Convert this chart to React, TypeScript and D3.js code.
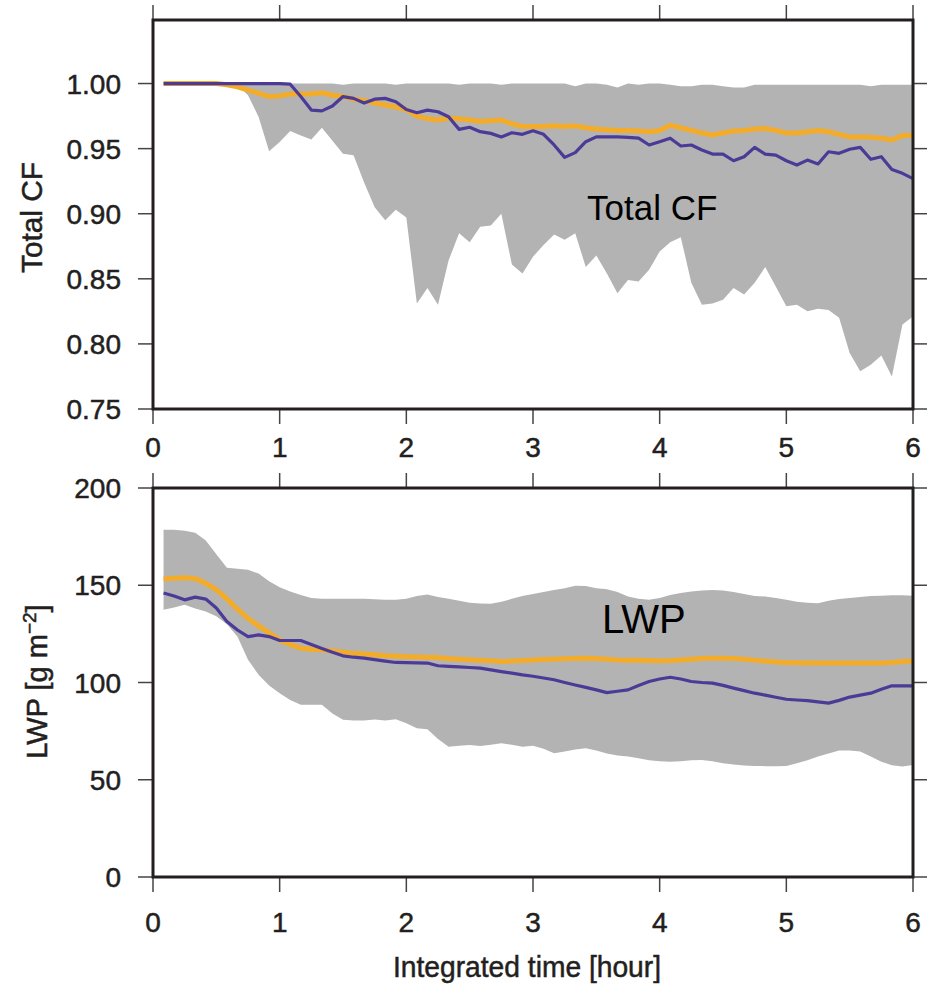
import React from "react";
import * as d3 from "d3";

// time axis: minutes since start (5-minute output)
const minutes = [
  5, 10, 15, 20, 25, 30, 35, 40, 45, 50, 55, 60,
  65, 70, 75, 80, 85, 90, 95, 100, 105, 110, 115, 120,
  125, 130, 135, 140, 145, 150, 155, 160, 165, 170, 175, 180,
  185, 190, 195, 200, 205, 210, 215, 220, 225, 230, 235, 240,
  245, 250, 255, 260, 265, 270, 275, 280, 285, 290, 295, 300,
  305, 310, 315, 320, 325, 330, 335, 340, 345, 350, 355, 360,
];

// Total cloud fraction
const cfMax = [
  1, 1, 1, 1, 1, 1, 1, 1, 1, 1, 1, 1,
  1, 1, 1, 1, 1, 0.999, 1, 1, 1, 1, 0.999, 1,
  1, 1, 1, 1, 0.999, 1, 1, 1, 0.999, 1, 1, 1,
  1, 1, 1, 0.998, 1, 1, 0.999, 0.997, 1, 0.999, 1, 1,
  0.999, 0.998, 0.998, 0.999, 0.999, 0.998, 0.997, 0.997, 0.999, 0.999, 0.999, 0.999,
  0.999, 0.999, 0.999, 0.999, 0.999, 0.999, 0.999, 0.998, 0.999, 0.999, 0.999, 0.999,
];
const cfMin = [
  1, 1, 1, 1, 1, 1, 1, 0.999, 0.991, 0.9745, 0.948, 0.955,
  0.9635, 0.96, 0.957, 0.966, 0.956, 0.946, 0.945, 0.924, 0.905, 0.895, 0.903, 0.897,
  0.831, 0.843, 0.83, 0.864, 0.885, 0.878, 0.89, 0.891, 0.9, 0.861, 0.854, 0.867,
  0.876, 0.884, 0.88, 0.885, 0.859, 0.868, 0.854, 0.839, 0.849, 0.848, 0.857, 0.871,
  0.878, 0.882, 0.847, 0.83, 0.831, 0.834, 0.843, 0.838, 0.847, 0.859, 0.844, 0.829,
  0.83, 0.825, 0.827, 0.826, 0.82, 0.793, 0.779, 0.784, 0.791, 0.775, 0.815, 0.821,
];
const cfOrange = [
  1, 1, 1, 1, 1, 1, 0.999, 0.9975, 0.995, 0.9925, 0.99, 0.9905,
  0.992, 0.992, 0.992, 0.993, 0.991, 0.99, 0.988, 0.987, 0.985, 0.9835, 0.982, 0.98,
  0.975, 0.973, 0.972, 0.9735, 0.973, 0.972, 0.971, 0.9715, 0.972, 0.969, 0.967, 0.967,
  0.967, 0.9675, 0.967, 0.9675, 0.966, 0.965, 0.9645, 0.964, 0.964, 0.9635, 0.963, 0.964,
  0.968, 0.966, 0.964, 0.962, 0.9605, 0.962, 0.9635, 0.964, 0.965, 0.9655, 0.964, 0.962,
  0.962, 0.963, 0.964, 0.963, 0.961, 0.959, 0.959, 0.9588, 0.958, 0.9566, 0.96, 0.96,
];
const cfPurple = [
  1, 1, 1, 1, 1, 1, 1, 1, 1, 1, 1, 1,
  0.9995, 0.99, 0.9796, 0.979, 0.9827, 0.99, 0.9886, 0.985, 0.988, 0.9886, 0.986, 0.98,
  0.9776, 0.9796, 0.9783, 0.9745, 0.9648, 0.9664, 0.963, 0.9617, 0.959, 0.9622, 0.961, 0.9637,
  0.961, 0.9528, 0.9433, 0.9469, 0.9553, 0.959, 0.959, 0.959, 0.9587, 0.958, 0.9528, 0.9553,
  0.958, 0.952, 0.9528, 0.949, 0.9458, 0.9458, 0.9407, 0.9438, 0.951, 0.9458, 0.945, 0.9407,
  0.9374, 0.9412, 0.9382, 0.9476, 0.9464, 0.9495, 0.951, 0.9418, 0.9438, 0.934, 0.931, 0.927,
];

// Liquid water path [g m-2]
const lwpMax = [
  178.5, 178.5, 178, 177, 173, 166, 159, 158.5, 158, 156, 152, 149,
  146.8, 145, 143.5, 143, 143, 143, 143, 143, 142.8, 142.6, 142.5, 143,
  144.5, 145.2, 144, 143, 142, 141, 140.6, 140.5, 141.5, 143, 144.5, 145.5,
  146.5, 147.5, 148.5, 149.7, 149.6, 148.5, 148, 146.5, 144.2, 143, 142.5, 143.5,
  145, 146, 146.8, 147.3, 147.5, 147.3, 146.5, 145.5, 144.5, 144.2, 143.5, 142.5,
  141.5, 141, 140.8, 142, 142.9, 143.5, 144, 144.5, 144.6, 144.8, 144.8, 144.6,
];
const lwpMin = [
  137.4, 138.5, 140, 138, 136.5, 134, 130, 123.6, 111.7, 104, 98.5, 94.5,
  91, 88.5, 88.5, 88.5, 84, 80.8, 80.5, 80.4, 81, 80.5, 81.1, 79,
  76.5, 76, 71, 67, 67.5, 67.9, 67.4, 68, 68.8, 68, 67, 67.5,
  66, 63.6, 64.5, 65.5, 66.2, 65, 63.5, 62.5, 61.9, 61, 60, 59.5,
  59.3, 59.5, 60, 60.2, 59.5, 58.5, 57.8, 57.3, 57.1, 57, 57, 57.1,
  58.5, 60, 61.9, 63.5, 65, 65, 64.5, 62, 59.3, 57.5, 56.8, 57.6,
];
const lwpOrange = [
  153.2, 153.6, 153.9, 153.5, 151, 147.7, 143, 137.7, 133, 129.1, 125.5, 121.9,
  119.5, 117.7, 117, 116.8, 116.2, 115.6, 115, 114.7, 114.3, 113.8, 113.5, 113.3,
  113.1, 113, 112.8, 112.3, 112, 111.7, 111.5, 111.2, 110.8, 111, 111.3, 111.6,
  111.8, 112, 112.2, 112.4, 112.5, 112.3, 112, 111.6, 111.5, 111.4, 111.3, 111.2,
  111.3, 111.6, 112, 112.3, 112.5, 112.5, 112.3, 112, 111.5, 111, 110.6, 110.3,
  110.1, 110, 110, 110, 110, 110, 110, 110, 110, 110.3, 110.8, 111.1,
];
const lwpPurple = [
  146, 144.5, 142.5, 143.9, 142.9, 138.3, 131.4, 127, 123.6, 124.5, 123.6, 121.6,
  121.6, 121.6, 119.5, 117.5, 115.5, 113.7, 113, 112.5, 111.8, 111, 110.3, 110.2,
  110.1, 110, 108.6, 108.3, 108, 107.7, 107.4, 106.5, 105.6, 104.8, 103.9, 103.2,
  102.3, 101.4, 100, 98.7, 97.5, 96.2, 94.8, 95.5, 96.2, 98.5, 100.5, 101.8,
  102.7, 101.8, 100.5, 100, 99.7, 98.5, 97.1, 95.8, 94.5, 93.5, 92.4, 91.4,
  91, 90.7, 90, 89.4, 90.8, 92.5, 93.5, 94.5, 96.5, 98.3, 98.3, 98.3,
];

const xTicks = [0, 1, 2, 3, 4, 5, 6];
const cfTicks = [0.75, 0.8, 0.85, 0.9, 0.95, 1.0];
const lwpTicks = [0, 50, 100, 150, 200];

const GRAY = "#b3b3b3";
const ORANGE = "#f3ac2a";
const PURPLE = "#4b3b97";
const INK = "#231f20";
const FONT = "'Liberation Sans', Arial, Helvetica, sans-serif";
const TXT = { fill: INK, stroke: INK, strokeWidth: 0.5, fontFamily: FONT };

type PanelProps = {
  top: number;
  bottom: number;
  domain: [number, number];
  ticks: number[];
  fmt: (v: number) => string;
  maxV: number[];
  minV: number[];
  orange: number[];
  purple: number[];
  xLabelY: number;
};

function Panel(p: PanelProps) {
  const x = d3.scaleLinear().domain([0, 6]).range([153, 913]);
  const y = d3.scaleLinear().domain(p.domain).range([p.bottom, p.top]);
  const hours = minutes.map((m) => m / 60);
  const idx = d3.range(hours.length);
  const area = d3
    .area<number>()
    .x((i) => x(hours[i]))
    .y0((i) => y(p.minV[i]))
    .y1((i) => y(p.maxV[i]));
  const line = (vals: number[]) =>
    d3
      .line<number>()
      .x((i) => x(hours[i]))
      .y((i) => y(vals[i]))(idx) || "";
  const [x0, x1] = x.range();
  const tl = 15;
  return (
    <g>
      <path d={area(idx) || ""} fill={GRAY} />
      <path d={line(p.orange)} fill="none" stroke={ORANGE} strokeWidth={5} strokeLinejoin="round" />
      <path d={line(p.purple)} fill="none" stroke={PURPLE} strokeWidth={3.2} strokeLinejoin="round" />
      {xTicks.map((t) => (
        <g key={"xt" + t} stroke="#444" strokeWidth={1.5}>
          <line x1={x(t)} x2={x(t)} y1={p.top} y2={p.top - tl} />
          <line x1={x(t)} x2={x(t)} y1={p.bottom} y2={p.bottom + tl} />
        </g>
      ))}
      {p.ticks.map((t) => (
        <g key={"yt" + t} stroke="#444" strokeWidth={1.5}>
          <line x1={x0} x2={x0 - tl} y1={y(t)} y2={y(t)} />
          <line x1={x1} x2={x1 + tl} y1={y(t)} y2={y(t)} />
        </g>
      ))}
      <rect x={x0} y={p.top} width={x1 - x0} height={p.bottom - p.top} fill="none" stroke={INK} strokeWidth={3} />
      {p.ticks.map((t) => (
        <text key={"yl" + t} x={121} y={y(t)} dy="0.36em" textAnchor="end" fontSize={28} {...TXT}>
          {p.fmt(t)}
        </text>
      ))}
      {xTicks.map((t) => (
        <text key={"xl" + t} x={x(t)} y={p.xLabelY} textAnchor="middle" fontSize={28} {...TXT}>
          {t}
        </text>
      ))}
    </g>
  );
}

export default function App() {
  return (
    <svg
      width={927}
      height={984}
      style={{ position: "absolute", left: 0, top: 0, background: "#fff" }}
    >
      <rect width={927} height={984} fill="#fff" />
      <Panel
        top={20}
        bottom={409}
        domain={[0.75, 1.0488]}
        ticks={cfTicks}
        fmt={(v) => v.toFixed(2)}
        maxV={cfMax}
        minV={cfMin}
        orange={cfOrange}
        purple={cfPurple}
        xLabelY={457}
      />
      <Panel
        top={488}
        bottom={877}
        domain={[0, 200]}
        ticks={lwpTicks}
        fmt={(v) => String(v)}
        maxV={lwpMax}
        minV={lwpMin}
        orange={lwpOrange}
        purple={lwpPurple}
        xLabelY={932}
      />
      <text x={587} y={220} fontSize={35} fontFamily={FONT} fill="#000">
        Total CF
      </text>
      <text x={602} y={633} fontSize={40} fontFamily={FONT} fill="#000">
        LWP
      </text>
      <text
        transform="translate(42,217.5) rotate(-90)"
        textAnchor="middle"
        fontSize={30}
        textLength={111}
        lengthAdjust="spacingAndGlyphs"
        {...TXT}
      >
        Total CF
      </text>
      <text
        transform="translate(47,681.5) rotate(-90)"
        textAnchor="middle"
        fontSize={29}
        {...TXT}
      >
        LWP [g m
        <tspan fontSize={19} dy={-11}>−2</tspan>
        <tspan dy={11}>]</tspan>
      </text>
      <text
        x={527}
        y={977}
        textAnchor="middle"
        fontSize={29}
        textLength={268}
        lengthAdjust="spacingAndGlyphs"
        {...TXT}
      >
        Integrated time [hour]
      </text>
    </svg>
  );
}
